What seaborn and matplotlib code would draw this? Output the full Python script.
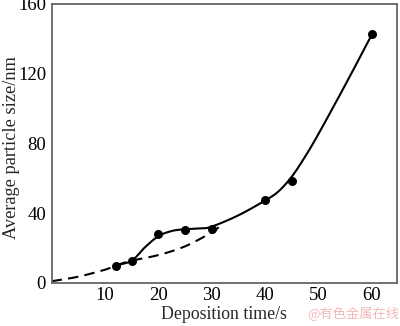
import numpy as np
import pandas as pd
import matplotlib
matplotlib.use("Agg")
import matplotlib.pyplot as plt
import seaborn as sns

# measured points
time_s = [12, 15, 20, 25, 30, 40, 45, 60]
size_nm = [10, 12.5, 28, 30.5, 31, 47.5, 58.5, 142.5]

# solid guide curve knots
solid_x = [12, 15, 17.5, 20, 22.5, 25, 28, 30, 35, 40, 42.5, 45, 47.5, 50, 55, 60]
solid_y = [10, 12.8, 20.5, 26.8, 29.8, 30.8, 31.3, 32.3, 38.8, 47.3, 52.5, 61, 72.5, 85.5, 113.5, 142.5]

# dashed guide curve knots
dash_x = [0, 5, 10, 12, 15, 20, 25, 30, 31.5]
dash_y = [1.0, 3.6, 7.6, 10, 12.8, 16, 21, 29, 32.5]

x_ticks = [10, 20, 30, 40, 50, 60]
y_ticks = [0, 40, 80, 120, 160]


def smooth(xs, ys, n=20):
    p = np.column_stack([xs, ys]).astype(float)
    p = np.vstack([2 * p[0] - p[1], p, 2 * p[-1] - p[-2]])
    out = []
    for i in range(1, len(p) - 2):
        p0, p1, p2, p3 = p[i - 1], p[i], p[i + 1], p[i + 2]
        t = np.linspace(0, 1, n, endpoint=False)[:, None]
        seg = 0.5 * ((2 * p1) + (-p0 + p2) * t + (2 * p0 - 5 * p1 + 4 * p2 - p3) * t ** 2
                     + (-p0 + 3 * p1 - 3 * p2 + p3) * t ** 3)
        out.append(seg)
    out.append(p[-2][None, :])
    out = np.vstack(out)
    return out[:, 0], out[:, 1]


sns.set_style("white")
plt.rcParams['font.family'] = ['Liberation Serif', 'DejaVu Serif']

fig = plt.figure(figsize=(4.0, 3.26), dpi=100)
ax = fig.add_axes([0.129, 0.132, 0.8635, 0.856])

sx, sy = smooth(solid_x, solid_y)
dx, dy = smooth(dash_x, dash_y)
sns.lineplot(x=sx, y=sy, ax=ax, color='black', lw=1.5, sort=False, estimator=None)
sns.lineplot(x=dx, y=dy, ax=ax, color='black', lw=1.5, sort=False, estimator=None,
             linestyle=(0, (5, 3)))
sns.scatterplot(x=time_s, y=size_nm, ax=ax, color='black', s=42, edgecolor='black',
                linewidth=0, zorder=5)

ax.set_xlim(0, 64.7)
ax.set_ylim(0, 160)
ax.set_xticks(x_ticks)
ax.set_yticks(y_ticks)
ax.set_xticklabels([str(v) for v in x_ticks])
ax.set_yticklabels([str(v) for v in y_ticks])
ax.tick_params(direction='in', length=4, width=1, color='#555555', labelsize=13.5,
               pad=3, labelcolor='black')
ax.tick_params(axis='y', length=3, pad=4)
for s in ax.spines.values():
    s.set_color('#666666')
    s.set_linewidth(1.3)

ax.set_xlabel('Deposition time/s', fontsize=12.8, labelpad=1)
ax.set_ylabel('Average particle size/nm', fontsize=13.2, labelpad=1)
ax.yaxis.set_label_coords(-0.092, 0.485)

fig.text(0.998, 0.014, '@有色金属在线', color='#f2b8b8', fontsize=9.5, ha='right', va='bottom',
         family=['Noto Sans CJK SC', 'DejaVu Sans'])

fig.savefig('out.png', dpi=100)
